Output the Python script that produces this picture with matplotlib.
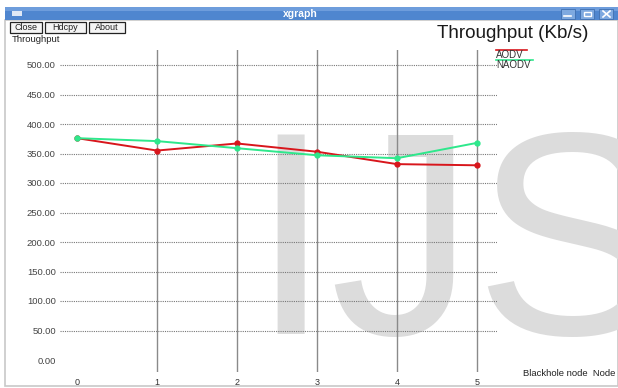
import matplotlib
matplotlib.use("Agg")
import matplotlib.pyplot as plt
from matplotlib.patches import Rectangle

plt.rcParams['font.family'] = ['Liberation Sans', 'DejaVu Sans']

# Throughput (Kb/s) versus number of blackhole nodes
nodes = [0, 1, 2, 3, 4, 5]
aodv = [376, 355, 367, 353, 332, 330]
naodv = [376, 371, 359, 347, 342, 368]
y_ticks = [0, 50, 100, 150, 200, 250, 300, 350, 400, 450, 500]
x_ticks = [0, 1, 2, 3, 4, 5]
series_names = ["AODV", "NAODV"]
series_colors = ["#d8161c", "#2ee88c"]

W, H = 618, 388
fig = plt.figure(figsize=(W / 100, H / 100), dpi=100)
fig.patch.set_facecolor("white")

# --- window chrome, drawn in pixel coordinates ---
bg = fig.add_axes([0, 0, 1, 1])
bg.set_xlim(0, W)
bg.set_ylim(H, 0)
bg.axis("off")

bg.add_patch(Rectangle((5, 20), W - 5, 366, facecolor="#ffffff", edgecolor="#c8c8c8", lw=1.2, zorder=1))
bg.add_patch(Rectangle((5, 7), W - 5, 13, facecolor="#4f86cf", edgecolor="none", zorder=1))
bg.add_patch(Rectangle((5, 7), W - 5, 4, facecolor="#6e9ddc", edgecolor="none", zorder=1))
bg.add_patch(Rectangle((12, 11), 10, 5, facecolor="#dfe8f5", edgecolor="none", zorder=2))
bg.text(300, 14, "xgraph", color="white", fontsize=7.5, fontweight="bold", ha="center", va="center", zorder=3)
for bx in (561, 580, 599):
    bg.add_patch(Rectangle((bx, 9), 14, 10, facecolor="#7ea9e0", edgecolor="#3f6fb0", lw=0.6, zorder=2))
bg.plot([564, 571], [16, 16], color="white", lw=1.2, zorder=3)
bg.add_patch(Rectangle((584, 12), 7, 4, facecolor="none", edgecolor="white", lw=1, zorder=3))
bg.plot([603, 610], [11, 17], color="white", lw=1.2, zorder=3)
bg.plot([603, 610], [17, 11], color="white", lw=1.2, zorder=3)

for (bx, bw, label) in ((10, 32, "Close"), (45, 41, "Hdcpy"), (89, 36, "About")):
    bg.add_patch(Rectangle((bx, 22), bw, 11, facecolor="#f4f4f4", edgecolor="#222222", lw=0.9, zorder=2))
    bg.text(bx + bw / 2, 27.8, label, fontsize=6.5, ha="center", va="center", color="#222222", zorder=3)

# faint watermark behind the plot
bg.text(250, 334, "IJS", fontsize=208, family="Liberation Sans", color="#dcdcdc",
        ha="left", va="baseline", zorder=2, clip_on=True)

bg.text(12, 40, "Throughput", fontsize=6.8, ha="left", va="center", color="#222222", zorder=3)
bg.text(588, 33, "Throughput (Kb/s)", fontsize=13.6, ha="right", va="center", color="#1a1a1a", zorder=3)
bg.text(615, 374, "Blackhole node  Node", fontsize=6.8, ha="right", va="center", color="#222222", zorder=3)

# legend entries: coloured bar above each name
for i, (name, col) in enumerate(zip(series_names, series_colors)):
    ty = 55 + 10 * i
    bg.plot([496, 496 + (31 if i == 0 else 37)], [ty - 5, ty - 5], color=col, lw=1.2, zorder=3)
    bg.text(496, ty, name, fontsize=7, ha="left", va="center", color="#333333", zorder=3)

# --- data axes ---
px_left, px_right, px_top, px_bottom = 60, 497, 50, 372
x0_px, x_step = 77, 80
y0_px, y_scale = 360, 0.59
xlim = ((px_left - x0_px) / x_step, (px_right - x0_px) / x_step)
ylim = ((y0_px - px_bottom) / y_scale, (y0_px - px_top) / y_scale)

ax = fig.add_axes([px_left / W, 1 - px_bottom / H, (px_right - px_left) / W, (px_bottom - px_top) / H])
ax.patch.set_visible(False)
ax.set_xlim(*xlim)
ax.set_ylim(*ylim)
for s in ax.spines.values():
    s.set_visible(False)

ax.set_yticks(y_ticks)
ax.set_yticklabels([f"{v:.2f}" for v in y_ticks], fontsize=6.8, color="#444444")
ax.set_xticks(x_ticks)
ax.set_xticklabels([str(v) for v in x_ticks], fontsize=6.5, color="#333333")
ax.tick_params(axis="y", length=0, pad=3)
ax.tick_params(axis="x", length=0, pad=4)

for v in y_ticks[1:]:
    ax.axhline(v, color="#777777", lw=0.8, ls=(0, (1, 1)), zorder=1)
for v in x_ticks[1:]:
    ax.axvline(v, color="#8a8a8a", lw=1.0, zorder=1)

ax.plot(nodes, aodv, color=series_colors[0], lw=1.4, marker="o", ms=3.5, zorder=3)
ax.plot(nodes, naodv, color=series_colors[1], lw=1.4, marker="o", ms=3.5, zorder=3)

fig.savefig("out.png", dpi=100)
